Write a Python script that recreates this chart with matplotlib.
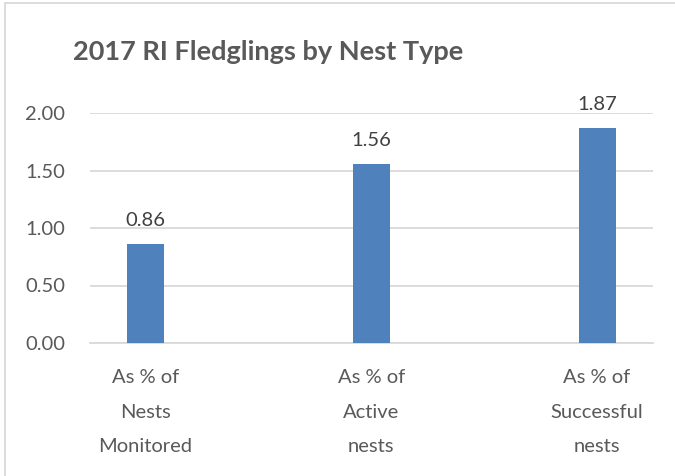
import matplotlib.pyplot as plt
from matplotlib.patches import Rectangle

categories = ['As % of\nNests\nMonitored', 'As % of\nActive\nnests', 'As % of\nSuccessful\nnests']
values = [0.86, 1.56, 1.87]
yticks = [0.0, 0.5, 1.0, 1.5, 2.0]

plt.rcParams['font.family'] = ['Lato', 'DejaVu Sans']

fig = plt.figure(figsize=(6.75, 4.76), dpi=100)
W, H = 675, 476
ax = fig.add_axes([90 / W, 1 - 343 / H, (653 - 90) / W, (343 - 113) / H])

x = list(range(len(categories)))
bars = ax.bar(x, values, width=0.164, color='#4F81BD', zorder=3)
for b, v in zip(bars, values):
    ax.text(b.get_x() + b.get_width() / 2, v + 0.13, '%.2f' % v,
            ha='center', va='bottom', fontsize=14.5, color='#404040')

ax.set_xlim(-0.246, 2.248)
ax.set_ylim(0, 2.0)
ax.set_yticks(yticks)
ax.set_yticklabels(['%.2f' % t for t in yticks])
ax.set_xticks(x)
ax.set_xticklabels(categories, linespacing=2.25)
ax.tick_params(axis='y', length=0, pad=18, labelsize=14.5, labelcolor='#595959')
ax.tick_params(axis='x', length=0, pad=19, labelsize=14.5, labelcolor='#595959')
ax.yaxis.grid(True, color='#D9D9D9', linewidth=1.3, zorder=0)
for s in ['top', 'right', 'left']:
    ax.spines[s].set_visible(False)
ax.spines['bottom'].set_color('#D9D9D9')
ax.spines['bottom'].set_linewidth(1.3)

fig.text(268 / W, 1 - 52 / H, '2017 RI Fledglings by Nest Type', ha='center', va='center',
         fontsize=19.5, fontweight='bold', color='#595959')

# chart border
fig.patches.append(Rectangle((5 / W, -0.1), 1.2, 1 - 3 / H + 0.1, transform=fig.transFigure,
                             fill=False, edgecolor='#D9D9D9', linewidth=1.3))

fig.savefig('out.png', dpi=100)
